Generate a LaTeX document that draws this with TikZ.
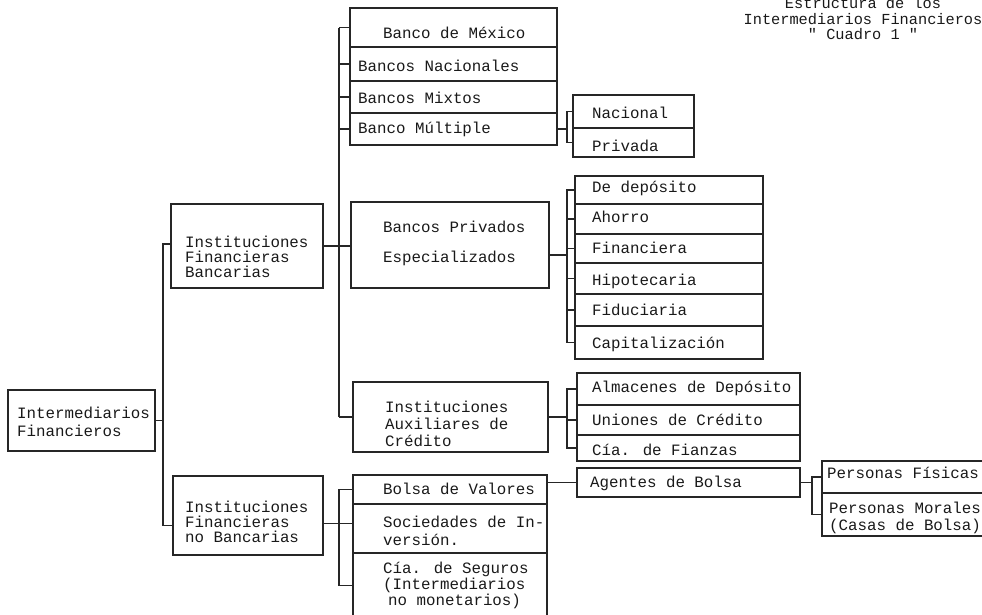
\documentclass[tikz,border=0pt]{standalone}
\usepackage{fontspec}
\newfontfamily\dotfont{Liberation Mono}
\newcommand{\cellbox}[5]{\node[cell, minimum width={(#4-#2)*1pt}, minimum height={(#5-#3)*1pt}, anchor=north west] (#1) at (#2,#3) {};}
\newcommand{\mtext}[5]{\node[mtxt=#4] (#1) at (#2,#3-7.7) {\rule{0pt}{13pt}#5};}
\begin{document}
\lineskiplimit=-50pt
\begin{tikzpicture}[x=1pt,y=-1pt,
  cell/.style={draw=black!85, line width=1.1pt, outer sep=0pt, inner sep=0pt},
  conn/.style={draw=black!85, line width=1.1pt},
  txt/.style={font=\dotfont\fontsize{15.8}{16}\selectfont, inner sep=0pt, text height=10.5pt, text depth=0pt, anchor=west, text=black!90},
  mtxt/.style={font=\dotfont\fontsize{15.8}{#1}\selectfont, inner sep=0pt, align=left, anchor=north west, text=black!90},
]
\useasboundingbox (0,0) rectangle (982,614);

% ---- boxes ----
\cellbox{inter}{8}{390}{155}{451}
\cellbox{ifb}{171}{204}{323}{288}
\cellbox{ifnb}{173}{476}{323}{555}
\cellbox{bm}{350}{8}{557}{47}
\cellbox{bn}{350}{47}{557}{81}
\cellbox{bx}{350}{81}{557}{113}
\cellbox{bu}{350}{113}{557}{145}
\cellbox{nac}{573}{95}{694}{128}
\cellbox{pri}{573}{128}{694}{157}
\cellbox{bp}{351}{202}{549}{288}
\cellbox{r1}{575}{176}{763}{204}
\cellbox{r2}{575}{204}{763}{234}
\cellbox{r3}{575}{234}{763}{263}
\cellbox{r4}{575}{263}{763}{294}
\cellbox{r5}{575}{294}{763}{326}
\cellbox{r6}{575}{326}{763}{359}
\cellbox{aux}{353}{382}{548}{452}
\cellbox{al}{577}{373}{800}{405}
\cellbox{un}{577}{405}{800}{435}
\cellbox{fi}{577}{435}{800}{461}
\cellbox{bv}{353}{475}{547}{504}
\cellbox{si}{353}{504}{547}{553}
\cellbox{cs}{353}{553}{547}{618}
\cellbox{ag}{577}{468}{800}{497}
\cellbox{pf}{822}{461}{986}{493}
\cellbox{pm}{822}{493}{986}{536}

% ---- texts ----
\node[mtxt=15.5, align=center, anchor=north, font=\dotfont\fontsize{15.3}{15.5}\selectfont] (title) at (863,3-7.7) {\rule{0pt}{13pt}Estructura de los\\Intermediarios Financieros\\" Cuadro 1 "};
\mtext{tinter}{17}{413}{18}{Intermediarios\\Financieros}
\mtext{tifb}{185}{242}{15}{Instituciones\\Financieras\\Bancarias}
\mtext{tifnb}{185}{507}{15}{Instituciones\\Financieras\\no Bancarias}
\node[txt] (tbm) at (383,33) {Banco de México};
\node[txt] (tbn) at (358,66) {Bancos Nacionales};
\node[txt] (tbx) at (358,98) {Bancos Mixtos};
\node[txt] (tbu) at (358,128) {Banco Múltiple};
\node[txt] (tnac) at (592,113) {Nacional};
\node[txt] (tpri) at (592,146) {Privada};
\mtext{tbp}{383}{227}{30}{Bancos Privados\\Especializados}
\node[txt] (tr1) at (592,187) {De depósito};
\node[txt] (tr2) at (592,217) {Ahorro};
\node[txt] (tr3) at (592,248) {Financiera};
\node[txt] (tr4) at (592,280) {Hipotecaria};
\node[txt] (tr5) at (592,310) {Fiduciaria};
\node[txt] (tr6) at (592,343) {Capitalización};
\mtext{taux}{385}{407}{17}{Instituciones\\Auxiliares de\\Crédito}
\node[txt] (tal) at (592,387) {Almacenes de Depósito};
\node[txt] (tun) at (592,420) {Uniones de Crédito};
\node[txt] (tfi) at (592,450) {Cía. de Fianzas};
\node[txt] (tbv) at (383,489) {Bolsa de Valores};
\mtext{tsi}{383}{522}{18}{Sociedades de In-\\versión.}
\mtext{tcs}{383}{568}{16}{Cía. de Seguros\\(Intermediarios\\\hspace*{5pt}no monetarios)}
\node[txt] (tag) at (590,482) {Agentes de Bolsa};
\node[txt] (tpf) at (827,473) {Personas Físicas};
\mtext{tpm}{829}{508}{17}{Personas Morales\\(Casas de Bolsa)}

% ---- connectors ----
\coordinate (sA) at (163,0);
\coordinate (sB) at (339,0);
\coordinate (sC) at (567,0);
\coordinate (sH) at (812,0);

\draw[conn] (inter.east) -- (inter.east -| sA);
\draw[conn] ([yshift=2pt]ifb.west) -- ([yshift=2pt]ifb.west -| sA) -- ([yshift=-10pt]ifnb.west -| sA) -- ([yshift=-10pt]ifnb.west);

\draw[conn] (bm.west -| sB) -- (aux.west -| sB);
\foreach \n in {bm,bn,bx,bu,aux} \draw[conn] (\n.west -| sB) -- (\n.west);
\draw[conn] (ifb.east) -- (ifb.east -| bp.west);

\draw[conn] (bu.east) -- (bu.east -| sC);
\draw[conn] (nac.west) -- (nac.west -| sC) -- (pri.west -| sC) -- (pri.west);

\draw[conn] ([yshift=-10pt]bp.east) -- ([yshift=-10pt]bp.east -| sC);
\draw[conn] (r1.west) -- (r1.west -| sC) -- (r6.west -| sC) -- (r6.west);
\foreach \n in {r2,r3,r4,r5} \draw[conn] (\n.west -| sC) -- (\n.west);

\draw[conn] (aux.east) -- (aux.east -| sC);
\draw[conn] (al.west) -- (al.west -| sC) -- (fi.west -| sC) -- (fi.west);
\draw[conn] (un.west -| sC) -- (un.west);

\draw[conn] (bv.west) -- (bv.west -| sB) -- (cs.west -| sB) -- (cs.west);
\draw[conn] ([yshift=-8pt]ifnb.east) -- ([yshift=-8pt]ifnb.east -| si.west);

\draw[conn] (ag.west -| bv.east) -- (ag.west);
\draw[conn] (ag.east) -- (ag.east -| sH);
\draw[conn] (pf.west) -- (pf.west -| sH) -- (pm.west -| sH) -- (pm.west);
\end{tikzpicture}
\end{document}
